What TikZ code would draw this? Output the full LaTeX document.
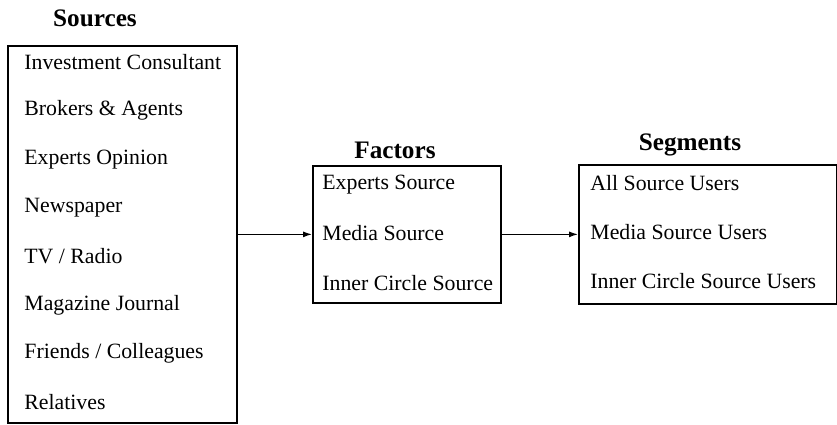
\documentclass[tikz,border=0pt]{standalone}
\usepackage{fontspec}
\setmainfont{Liberation Serif}
\usetikzlibrary{arrows.meta}
\tikzset{
    box/.style={draw, line width=0.85pt, inner sep=0pt, anchor=north west},
    entry/.style={anchor=west, inner sep=0pt, font=\fontsize{10.9}{12}\selectfont},
    heading/.style={inner sep=0pt, font=\fontsize{12.6}{14}\selectfont\bfseries},
    link/.style={-{Latex[length=4.5pt,width=3pt]}, line width=0.6pt}
}

\begin{document}
\begin{tikzpicture}[x=0.5pt,y=-0.5pt]
\useasboundingbox (0,0) rectangle (837,424);
\node[box, minimum width=114.5pt, minimum height=188.5pt] (sources) at (7,45) {};
\node[box, minimum width=94pt, minimum height=68.5pt] (factors) at (312,165) {};
\node[box, minimum width=129pt, minimum height=69.5pt] (segments) at (578,164) {};
\node[heading] (srctitle) at (95,18) {Sources};
\node[heading] (factitle) at (395,150) {Factors};
\node[heading] (segtitle) at (690,145) {Segments};
\foreach \txt [count=\i] in {Investment Consultant, Brokers \& Agents, Experts Opinion, Newspaper, TV / Radio, Magazine Journal, Friends / Colleagues, Relatives}{
    \node[entry] (src\i) at (24,{62+(\i-1)*48.6}) {\txt};
}
\foreach \y/\p/\txt in {185/fac1/Experts Source, 233/fac2/Media Source, 283/fac3/Inner Circle Source}{
    \node[entry] (\p) at (322,\y) {\txt};
}
\foreach \y/\p/\txt in {183/seg1/All Source Users, 232/seg2/Media Source Users, 281/seg3/Inner Circle Source Users}{
    \node[entry] (\p) at (590,\y) {\txt};
}
\draw[link] (sources.east) -- (factors.west);
\draw[link] (factors.east) -- (segments.west);
\end{tikzpicture}
\end{document}
